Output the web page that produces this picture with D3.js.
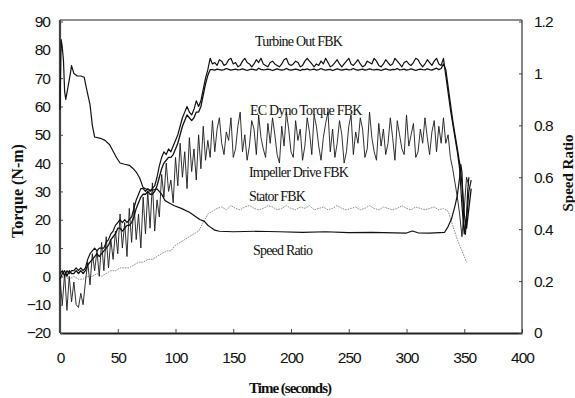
<!DOCTYPE html>
<html>
<head>
<meta charset="utf-8">
<script src="https://cdn.jsdelivr.net/npm/d3@7"></script>
<style>
  body { margin: 0; background: #fff; }
  svg { display: block; }
  .tick text { font-family: "Liberation Sans", Arial, sans-serif; font-size: 15.5px; letter-spacing: -1px; fill: #111; }
  .note { font-family: "Liberation Serif", "Times New Roman", serif; font-size: 14px; letter-spacing: -0.8px; fill: #111; }
  .title { font-family: "Liberation Serif", "Times New Roman", serif; font-weight: bold; fill: #111; }
</style>
</head>
<body>
<div id="chart"></div>
<script>
const width = 575;
const height = 398;

// sampling step (seconds) of the logged torque channels
const step = 2;
const stator_step = 4;

// Turbine Out FBK (N-m), t = 0, 2, 4 ...
const turbine = [
  1, 2, 0, 2, 1, 2, 2, 3, 2, 3,
  2, 3, 6, 8, 9, 10, 9, 10, 10, 10,
  12, 13, 15, 16, 18, 19, 20, 19, 20, 19,
  20, 21, 24, 27, 29, 31, 31, 30, 31, 30,
  31, 32, 35, 39, 42, 44, 43, 45, 44, 46,
  48, 50, 53, 56, 58, 60, 58, 57, 59, 62,
  60, 62, 66, 70, 73, 77, 75, 75.5, 74.5, 76.5,
  76, 74.5, 75, 76.5, 77, 75, 75.5, 74, 74.5, 76,
  77, 75.5, 75, 74, 75, 76.5, 75.5, 77, 75, 74.5,
  74, 75.5, 76, 75, 74.5, 74, 75, 76.5, 77, 75,
  74.5, 75, 76, 75.5, 74, 74.5, 76, 77, 76, 75,
  74, 75, 74.5, 76, 75, 77, 75.5, 74, 74.5, 75.5,
  76.5, 75, 74, 75, 76, 77, 75, 74.5, 75.5, 76.5,
  75, 74, 74.5, 76, 75.5, 75, 77, 76, 74.5, 74,
  75, 76.5, 75.5, 74.5, 75, 77, 76, 75, 74, 75.5,
  76, 75, 74.5, 75.5, 77, 76.5, 75, 74, 75, 76.5,
  75.5, 74.5, 76, 77, 75, 74.5, 77, 71, 65, 59,
  54, 49, 44, 38, 25, 15, 20, 30, 34
];

// EC Dyno Torque FBK (N-m)
const dyno = [
  -1, 1, 2, 0, 2, 1, 1, 2, 1, 2,
  1, 2, 4, 5, 6, 7, 8, 7, 8, 9,
  10, 11, 13, 14, 15, 17, 17, 16, 17, 18,
  18, 19, 21, 24, 26, 28, 29, 29, 30, 29,
  29, 30, 32, 35, 38, 40, 41, 42, 42, 43,
  45, 47, 50, 53, 55, 57, 56, 55, 56, 58,
  58, 60, 64, 68, 71, 73, 73, 72.8, 73.2, 73,
  72.8, 73, 73.4, 73.1, 72.8, 73, 73.2, 72.9, 73, 73.3,
  73, 72.7, 73, 73.2, 73, 72.8, 73.5, 73.1, 72.9, 73,
  73.2, 73, 72.7, 73, 73.3, 73, 72.8, 73, 73.4, 73,
  72.8, 73, 73.2, 73, 72.7, 73.1, 73, 73.3, 72.9, 73,
  73.2, 72.8, 73, 73.4, 73, 72.8, 73, 73.1, 72.7, 73,
  73.3, 73, 72.8, 73, 73.2, 72.9, 73, 73.4, 73, 72.8,
  73, 73.2, 72.8, 73, 73.3, 73, 72.9, 73.1, 73, 72.7,
  73, 73.3, 73, 72.8, 73.1, 73, 73.4, 72.9, 73, 73.2,
  72.8, 73, 73.3, 73, 72.7, 73, 73.2, 73, 72.9, 73.3,
  73, 72.8, 73.2, 73.5, 73, 73.4, 75, 73, 67, 61,
  55, 50, 45, 40, 33, 22, 17, 24, 31
];

// Impeller Drive FBK (N-m)
const impeller = [
  -1, -10, 1, -12, 0, -9, -2, -10, -11, -6,
  -10, -2, 5, -3, 8, 2, 9, 0, 12, 2,
  14, 3, 13, 6, 16, 8, 22, 10, 19, 7,
  24, 12, 26, 13, 22, 10, 28, 15, 30, 17,
  33, 16, 27, 21, 36, 28, 40, 30, 34, 26,
  42, 32, 47, 35, 44, 31, 49, 37, 45, 34,
  50, 38, 53, 41, 48, 42, 55, 44, 52, 56,
  47, 43, 51, 48, 56, 42, 45, 53, 58, 44,
  50, 41, 46, 55, 52, 43, 57, 49, 45, 42,
  54, 47, 56, 50, 43, 40, 53, 46, 58, 52,
  44, 42, 55, 48, 52, 41, 46, 56, 51, 43,
  57, 53, 46, 41, 49, 54, 58, 44, 52, 42,
  47, 55, 50, 40, 44, 53, 57, 43, 51, 47,
  56, 52, 42, 45, 58, 49, 44, 41, 54, 46,
  52, 43, 47, 56, 49, 41, 55, 50, 45, 43,
  57, 46, 50, 54, 42, 44, 52, 47, 56, 49,
  43, 51, 55, 44, 53, 47, 56, 47, 50, 42,
  38, 33, 28, 22, 14, 24, 35, 32
];

// Stator FBK (N-m), t = 0, 4, 8 ...
const stator = [
  -1, 0, -1, 0, -1, -1, 0, 0, 1, 0,
  1, 2, 2, 3, 3, 3, 4, 5, 5, 6,
  6, 7, 8, 9, 9, 11, 12, 13, 14, 15,
  16, 19, 22, 23, 24, 24.5, 23.5, 25, 24, 23.5,
  24.5, 25, 24, 23.5, 24, 25, 24.5, 23.5, 24, 25,
  24, 23.5, 24.5, 24, 25, 23.5, 24, 24.5, 23.5, 24,
  25, 24, 23.5, 24, 24.5, 23.5, 24, 25, 24, 23.5,
  24.5, 24, 23.5, 24, 25, 24, 23.5, 24.5, 24, 23.5,
  24, 24.5, 23.5, 24, 23, 18, 13, 9, 5
];

// Speed Ratio (right axis)
const sr_time = [
  0, 1, 2, 3, 4, 5, 7, 9, 10, 12,
  15, 18, 21, 23, 26, 28, 30, 35, 39, 43,
  46, 49, 52, 56, 60, 63, 66, 69, 72, 76,
  80, 84, 88, 91, 95, 99, 105, 112, 117, 121,
  125, 128, 131, 134, 138, 150, 170, 190, 210, 230,
  250, 270, 290, 300, 305, 310, 320, 333, 336, 339,
  342, 344, 346, 347, 348, 349, 350, 351, 352, 353,
  354
];
const sr_value = [
  0.86, 1.13, 1.1, 1.05, 0.93, 0.9, 0.95, 1.0, 1.03, 1.0,
  0.99, 0.99, 0.985, 0.94, 0.88, 0.8, 0.755, 0.75, 0.742, 0.725,
  0.7, 0.675, 0.655, 0.65, 0.646, 0.635, 0.62, 0.597, 0.56, 0.552,
  0.55, 0.555, 0.535, 0.51, 0.5, 0.49, 0.48, 0.465, 0.45, 0.437,
  0.43, 0.415, 0.405, 0.396, 0.392, 0.39, 0.392, 0.39, 0.388, 0.39,
  0.387, 0.388, 0.386, 0.385, 0.393, 0.386, 0.385, 0.388, 0.41, 0.44,
  0.49, 0.53, 0.6, 0.65, 0.62, 0.5, 0.4, 0.38, 0.45, 0.55,
  0.6
];

// axis ticks
const time_ticks = [0, 50, 100, 150, 200, 250, 300, 350, 400];
const torque_ticks = [-20, -10, 0, 10, 20, 30, 40, 50, 60, 70, 80, 90];
const ratio_ticks = [0, 0.2, 0.4, 0.6, 0.8, 1, 1.2];

// curve labels
const notes = [
  { text: "Turbine Out FBK", x: 255, y: 46 },
  { text: "EC Dyno Torque FBK", x: 250, y: 115 },
  { text: "Impeller Drive FBK", x: 249, y: 177 },
  { text: "Stator FBK", x: 249, y: 201 },
  { text: "Speed Ratio", x: 253, y: 255 }
];

const plot = { left: 60, right: 522, top: 20, bottom: 333 };

let svg = d3
  .select("#chart")
  .append("svg")
  .attr("width", width)
  .attr("height", height);

let x = d3.scaleLinear().domain([0, 400]).range([plot.left, plot.right]);
let y = d3.scaleLinear().domain([-20, 90]).range([plot.bottom, plot.top + 1.5]);
let y2 = d3.scaleLinear().domain([0, 1.2]).range([plot.bottom, plot.top + 1.5]);

// frame top
svg.append("line")
  .attr("x1", plot.left).attr("x2", plot.right)
  .attr("y1", plot.top).attr("y2", plot.top)
  .attr("stroke", "#222").attr("stroke-width", 1.2);

// axes
let gx = svg.append("g")
  .attr("transform", `translate(0,${plot.bottom})`)
  .call(d3.axisBottom(x).tickValues(time_ticks).tickFormat(d3.format("d"))
    .tickSizeInner(-4).tickSizeOuter(0).tickPadding(19));

let gy = svg.append("g")
  .attr("transform", `translate(${plot.left},0)`)
  .call(d3.axisLeft(y).tickValues(torque_ticks).tickFormat(d3.format("d"))
    .tickSizeInner(-3).tickSizeOuter(0).tickPadding(10));

let gy2 = svg.append("g")
  .attr("transform", `translate(${plot.right},0)`)
  .call(d3.axisRight(y2).tickValues(ratio_ticks).tickFormat((d) => String(d))
    .tickSizeInner(-3).tickSizeOuter(0).tickPadding(12));

gx.select(".domain").attr("stroke", "#222").attr("stroke-width", 1.8);
gy.select(".domain").attr("stroke", "#444").attr("stroke-width", 2.2)
  .attr("d", `M0,${plot.top}V${plot.bottom}`);
gy2.select(".domain").attr("stroke", "#333").attr("stroke-width", 1.2)
  .attr("d", `M0,${plot.top}V${plot.bottom}`);
svg.selectAll(".tick line").attr("stroke", "#444");

// series
function draw(values, t_of, yscale, color, w, dash) {
  let line = d3.line()
    .x((d, i) => x(t_of(i)))
    .y((d) => yscale(d));
  svg.append("path")
    .datum(values)
    .attr("fill", "none")
    .attr("stroke", color)
    .attr("stroke-width", w)
    .attr("stroke-linejoin", "round")
    .attr("stroke-dasharray", dash || null)
    .attr("d", line);
}

draw(stator, (i) => i * stator_step, y, "#8c8c8c", 1, "1.6,1");
draw(impeller, (i) => i * step, y, "#1a1a1a", 0.9);
draw(dyno, (i) => i * step, y, "#111", 1.3);
draw(turbine, (i) => i * step, y, "#111", 1.2);
draw(sr_value, (i) => sr_time[i], y2, "#111", 1.2);

// curve labels
svg.selectAll(".note")
  .data(notes)
  .enter()
  .append("text")
  .attr("class", "note")
  .attr("x", (d) => d.x)
  .attr("y", (d) => d.y)
  .text((d) => d.text);

// axis titles
svg.append("text")
  .attr("class", "title")
  .attr("font-size", 16)
  .attr("text-anchor", "middle")
  .attr("transform", "translate(23,191) rotate(-90)")
  .text("Torque (N-m)");

svg.append("text")
  .attr("class", "title")
  .attr("font-size", 15)
  .attr("text-anchor", "middle")
  .attr("transform", "translate(573,173) rotate(-90)")
  .text("Speed Ratio");

svg.append("text")
  .attr("class", "title")
  .attr("font-size", 15)
  .attr("letter-spacing", "-1px")
  .attr("text-anchor", "middle")
  .attr("x", 290)
  .attr("y", 393)
  .text("Time (seconds)");
</script>
</body>
</html>
